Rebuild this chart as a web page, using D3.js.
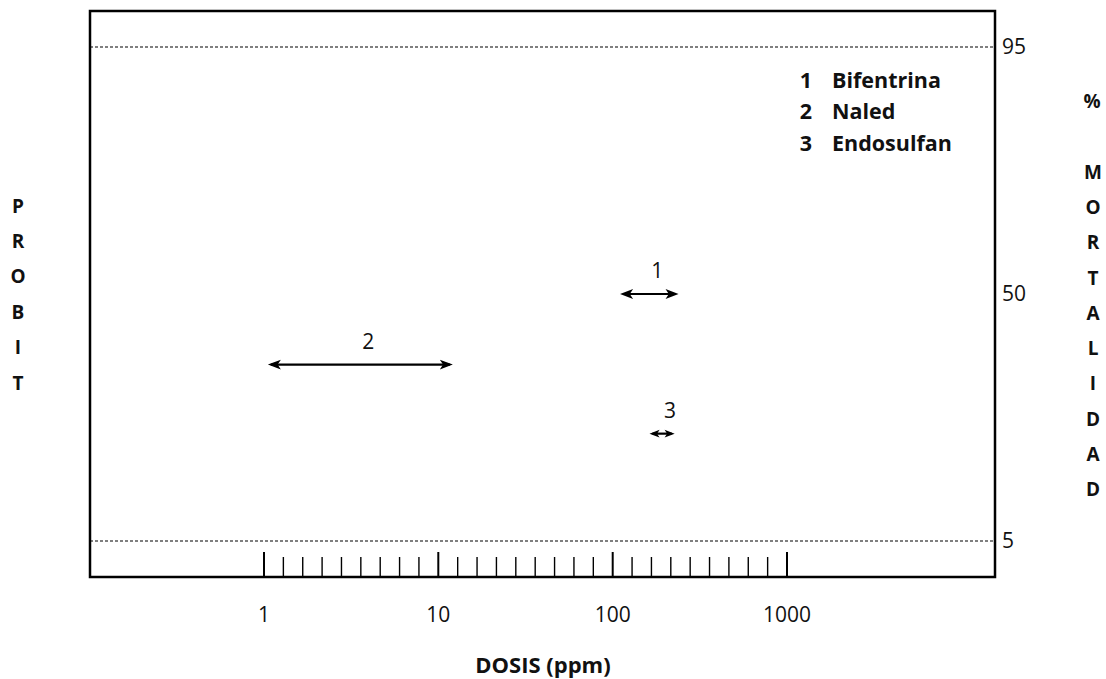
<!DOCTYPE html>
<html>
<head>
<meta charset="utf-8">
<script src="https://cdn.jsdelivr.net/npm/d3@7"></script>
<style>
  body { margin: 0; background: #fff; }
  text { font-family: "Open Sans", Lato, sans-serif; fill: #111; }
</style>
</head>
<body>
<div id="chart"></div>
<script>
// frame size
const FRAME_WIDTH = 1106;
const FRAME_HEIGHT = 679;
const BOX = {left: 90, right: 995, top: 11, bottom: 577};

// data
const SERIES_IDS = [1, 2, 3];
const SERIES_NAMES = ["Bifentrina", "Naled", "Endosulfan"];
const DOSE_LOW = [138, 1.2, 290];      // ppm, left arrow tip
const DOSE_HIGH = [440, 17.5, 420];    // ppm, right arrow tip
const PROBIT = [5.0, 4.53, 4.07];

const X_TICKS = [1, 2, 3, 4, 5, 6, 7, 8, 9,
                 10, 20, 30, 40, 50, 60, 70, 80, 90,
                 100, 200, 300, 400, 500, 600, 700, 800, 900, 1000];
const X_MAJOR = [1, 10, 100, 1000];
const MORT_TICKS = [95, 50, 5];
const MORT_PROBIT = [6.645, 5.0, 3.355];
const DASHED_AT = [95, 5];

const FRAME = d3.select("#chart")
                .append("svg")
                  .attr("width", FRAME_WIDTH)
                  .attr("height", FRAME_HEIGHT);

// x scale: evenly spaced ticks inside each decade (piecewise linear)
const X_SCALE = d3.scaleLinear()
                  .domain([1, 10, 100, 1000])
                  .range([264, 438.3, 612.7, 787]);

// y scale in probit units
const Y_SCALE = d3.scaleLinear()
                  .domain([3.355, 6.645])
                  .range([541, 47]);

const probitOf = (p) => MORT_PROBIT[MORT_TICKS.indexOf(p)];

// dashed reference lines
FRAME.selectAll(".ref")
     .data(DASHED_AT)
     .enter()
     .append("line")
       .attr("x1", BOX.left)
       .attr("x2", BOX.right)
       .attr("y1", (d) => Y_SCALE(probitOf(d)))
       .attr("y2", (d) => Y_SCALE(probitOf(d)))
       .attr("stroke", "#000")
       .attr("stroke-width", 1.2)
       .attr("stroke-dasharray", "3,2");

// box
FRAME.append("rect")
     .attr("x", BOX.left)
     .attr("y", BOX.top)
     .attr("width", BOX.right - BOX.left)
     .attr("height", BOX.bottom - BOX.top)
     .attr("fill", "none")
     .attr("stroke", "#000")
     .attr("stroke-width", 2.5);

// x ticks drawn up from the bottom edge
FRAME.selectAll(".tick")
     .data(X_TICKS)
     .enter()
     .append("line")
       .attr("x1", (d) => X_SCALE(d))
       .attr("x2", (d) => X_SCALE(d))
       .attr("y1", BOX.bottom)
       .attr("y2", (d) => X_MAJOR.includes(d) ? 552 : 557)
       .attr("stroke", "#000")
       .attr("stroke-width", (d) => X_MAJOR.includes(d) ? 2 : 1.4);

FRAME.selectAll(".xlab")
     .data(X_MAJOR)
     .enter()
     .append("text")
       .attr("x", (d) => X_SCALE(d))
       .attr("y", 615)
       .attr("dy", "0.35em")
       .attr("text-anchor", "middle")
       .attr("font-size", "21px")
       .text((d) => d);

// right axis labels
FRAME.selectAll(".ylab")
     .data(MORT_TICKS)
     .enter()
     .append("text")
       .attr("x", 1002)
       .attr("y", (d) => Y_SCALE(probitOf(d)))
       .attr("dy", "0.35em")
       .attr("font-size", "21px")
       .text((d) => d);

// arrows
function arrowPath(x1, x2, y) {
  const len = Math.min(13, (x2 - x1) / 2.5);
  const w = len * 0.38;
  return "M" + x1 + "," + y + "l" + len + "," + (-w) + "l" + (-len * 0.25) + "," + w +
         "l" + (len * 0.25) + "," + w + "Z" +
         "M" + x2 + "," + y + "l" + (-len) + "," + (-w) + "l" + (len * 0.25) + "," + w +
         "l" + (-len * 0.25) + "," + w + "Z";
}

SERIES_IDS.forEach((id, i) => {
  const x1 = X_SCALE(DOSE_LOW[i]);
  const x2 = X_SCALE(DOSE_HIGH[i]);
  const y = Y_SCALE(PROBIT[i]);

  FRAME.append("line")
       .attr("x1", x1 + 3)
       .attr("x2", x2 - 3)
       .attr("y1", y)
       .attr("y2", y)
       .attr("stroke", "#000")
       .attr("stroke-width", 2.2);

  FRAME.append("path")
       .attr("d", arrowPath(x1, x2, y))
       .attr("fill", "#000");

  FRAME.append("text")
       .attr("x", (x1 + x2) / 2 + 8)
       .attr("y", y - 23)
       .attr("dy", "0.35em")
       .attr("text-anchor", "middle")
       .attr("font-size", "21px")
       .text(id);
});

// legend
const legend = FRAME.selectAll(".leg")
                    .data(SERIES_IDS)
                    .enter()
                    .append("g")
                      .attr("transform", (d, i) => "translate(0," + (80 + i * 31.5) + ")");

legend.append("text")
      .attr("x", 806)
      .attr("dy", "0.35em")
      .attr("text-anchor", "middle")
      .attr("font-size", "21.5px")
      .attr("font-weight", "bold")
      .text((d) => d);

legend.append("text")
      .attr("x", 832)
      .attr("dy", "0.35em")
      .attr("font-size", "21.5px")
      .attr("font-weight", "bold")
      .text((d, i) => SERIES_NAMES[i]);

// stacked axis titles
const LEFT_TITLE = "PROBIT".split("");
const RIGHT_TITLE = "MORTALIDAD".split("");

FRAME.selectAll(".lt")
     .data(LEFT_TITLE)
     .enter()
     .append("text")
       .attr("x", 18)
       .attr("y", (d, i) => 206 + i * 35.4)
       .attr("dy", "0.35em")
       .attr("text-anchor", "middle")
       .attr("font-size", "19px")
       .attr("font-weight", "bold")
       .text((d) => d);

FRAME.append("text")
     .attr("x", 1092)
     .attr("y", 101)
     .attr("dy", "0.35em")
     .attr("text-anchor", "middle")
     .attr("font-size", "19px")
     .attr("font-weight", "bold")
     .text("%");

FRAME.selectAll(".rt")
     .data(RIGHT_TITLE)
     .enter()
     .append("text")
       .attr("x", 1093)
       .attr("y", (d, i) => 172 + i * 35.3)
       .attr("dy", "0.35em")
       .attr("text-anchor", "middle")
       .attr("font-size", "19px")
       .attr("font-weight", "bold")
       .text((d) => d);

FRAME.append("text")
     .attr("x", 543)
     .attr("y", 665)
     .attr("dy", "0.35em")
     .attr("text-anchor", "middle")
     .attr("font-size", "22px")
     .attr("font-weight", "bold")
     .text("DOSIS (ppm)");
</script>
</body>
</html>
